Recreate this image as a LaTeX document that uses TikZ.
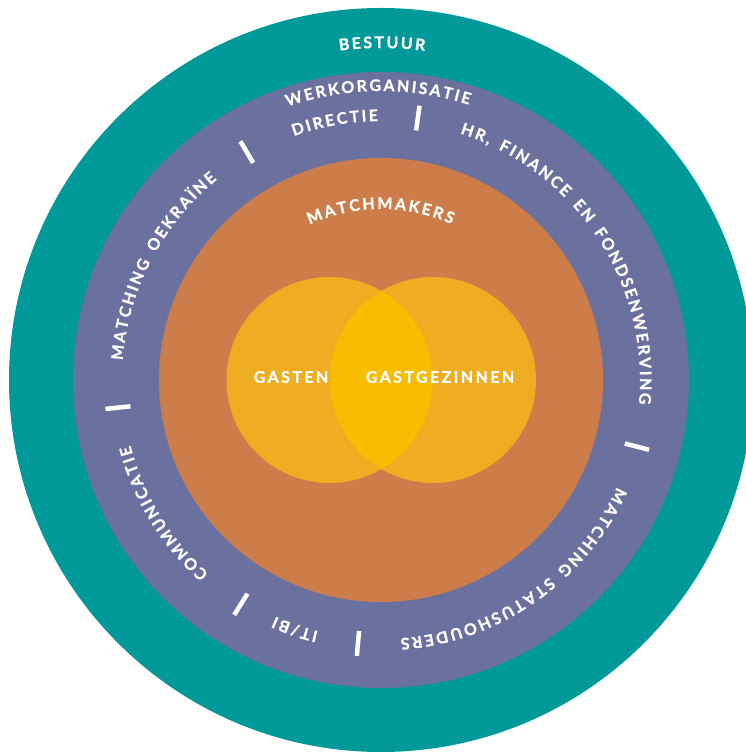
\documentclass[tikz,border=0pt]{standalone}
\usepackage{fontspec}
\setmainfont{Lato}
\newfontfamily\ringfont[LetterSpace=15, BoldFeatures={FakeBold=0.8}]{Lato}
\usetikzlibrary{decorations.text}

\definecolor{bestuur}{RGB}{0,153,153}
\definecolor{werkorg}{RGB}{107,113,158}
\definecolor{matchers}{RGB}{205,125,74}
\definecolor{venn}{RGB}{239,174,34}
\definecolor{overlap}{RGB}{248,189,0}

\newcommand{\ringstyle}{\ringfont\bfseries\fontsize{16}{19}\selectfont}
\newcommand{\spreadchar}{\kern2.2pt}

\tikzset{
  ringtext/.style={decorate, decoration={text along path, text align=center,
      text color=white, text={|\ringstyle\spreadchar|#1}}},
  divider/.style={draw=white, line width=4.5pt},
}

\begin{document}
\begin{tikzpicture}[x=1pt, y=1pt]
  \useasboundingbox (0,0) rectangle (746,752);
  \clip (0,0) rectangle (746,752);
  \coordinate (ctr) at (381,372);
  % Rings
  \fill[bestuur] (ctr) circle (372);
  \fill[werkorg] (ctr) circle (308);
  \fill[matchers] (ctr) circle (222);
  % Gasten and gastgezinnen
  \fill[venn] (329.5,372) circle (103);
  \fill[venn] (433,372) circle (103);
  \begin{scope}
    \clip (329.5,372) circle (103);
    \fill[overlap] (433,372) circle (103);
  \end{scope}
  \node[text=white, font=\ringstyle] (gasten) at (291,375) {GASTEN};
  \node[text=white, font=\ringstyle] (gastgezinnen) at (440,375) {GASTGEZINNEN};
  % Dividers in the ring
  \foreach \a in {82,120.5,186,238,265,345.4}
    \draw[divider] (ctr) ++(\a:252) -- ++(\a:25);
  % Text along the rings
  \path[ringtext={BESTUUR}] (ctr) ++(120:332) arc[start angle=120, end angle=60, radius=332];
  \path[ringtext={WERKORGANISATIE}] (ctr) ++(140.8:289) arc[start angle=140.8, end angle=40.8, radius=289];
  \path[ringtext={DIRECTIE}] (ctr) ++(130.4:259) arc[start angle=130.4, end angle=70.4, radius=259];
  \path[ringtext={HR, FINANCE EN FONDSENWERVING}] (ctr) ++(88.7:259) arc[start angle=88.7, end angle=-21.3, radius=259];
  \path[ringtext={MATCHING STATUSHOUDERS}] (ctr) ++(-4.8:259) arc[start angle=-4.8, end angle=-104.8, radius=259];
  \path[ringtext={IT/BI}] (ctr) ++(281.2:259) arc[start angle=281.2, end angle=221.2, radius=259];
  \path[ringtext={COMMUNICATIE}] (ctr) ++(251.7:259) arc[start angle=251.7, end angle=171.7, radius=259];
  \path[ringtext={MATCHING OEKRAÏNE}] (ctr) ++(197.7:259) arc[start angle=197.7, end angle=107.7, radius=259];
  \path[ringtext={MATCHMAKERS}] (ctr) ++(130.5:171) arc[start angle=130.5, end angle=50.5, radius=171];
\end{tikzpicture}
\end{document}
